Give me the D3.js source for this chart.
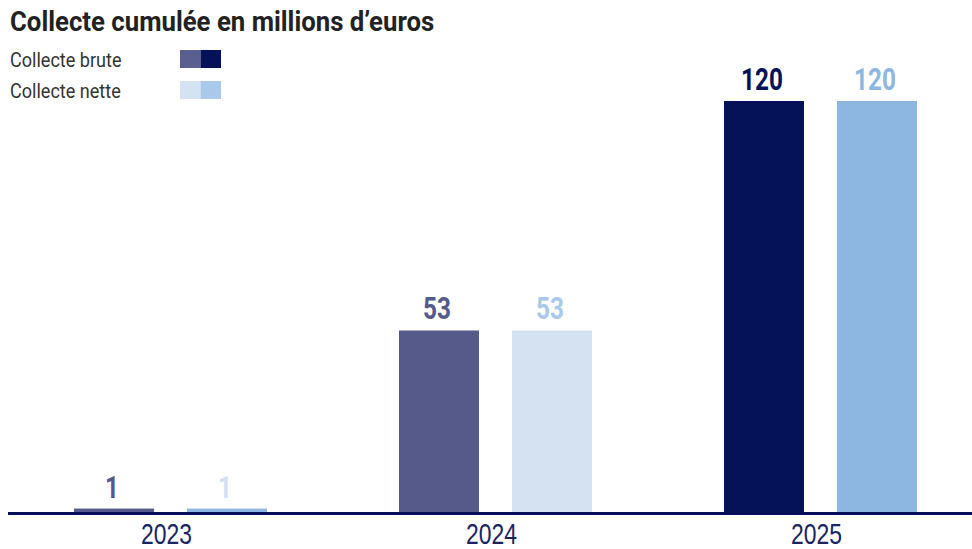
<!DOCTYPE html>
<html><head><meta charset="utf-8">
<script src="https://cdn.jsdelivr.net/npm/d3@7"></script>
<style>
body{margin:0;background:#fff;}
svg{display:block;font-family:Roboto,"Noto Sans",sans-serif;}
</style></head>
<body><svg id="c" width="972" height="549"></svg>
<script>
const years = ["2023","2024","2025"];
const series = ["Collecte brute","Collecte nette"];
const brute = [1,53,120];
const nette = [1,53,120];

const barColors = {
  "Collecte brute": ["#555a8a","#555a8a","#061257"],
  "Collecte nette": ["#8db7e0","#d4e2f2","#8db7e0"]
};
const labelColors = {
  "Collecte brute": ["#555a8a","#555a8a","#061257"],
  "Collecte nette": ["#d2e0f1","#a9c8ea","#8db7e0"]
};
const legendColors = {
  "Collecte brute": ["#5a5f8f","#061257"],
  "Collecte nette": ["#d4e2f2","#a9c8ea"]
};

const svg = d3.select("#c");
const base = 512;

function ctext(parent, x, yy, txt, size, weight, fill, anchor, sx){
  return parent.append("text")
    .attr("transform",`translate(${x},${yy}) scale(${sx||0.78},1)`)
    .attr("font-size",size).attr("font-weight",weight).attr("fill",fill)
    .attr("text-anchor",anchor||"start").text(txt);
}

const x0 = d3.scaleBand().domain(years).range([8,983]).paddingInner(0).paddingOuter(0);
const y = d3.scaleLinear().domain([0,120]).range([base,101]);

ctext(svg,10,31,"Collecte cumulée en millions d’euros",28,"bold","#222","start",0.92);

series.forEach((s,i)=>{
  const g = svg.append("g").attr("transform",`translate(0,${i*31})`);
  ctext(g,10,67,s,21,"normal","#333","start",0.86);
  legendColors[s].forEach((c,j)=>{
    g.append("rect").attr("x",180+j*20.5).attr("y",50).attr("width",20.5).attr("height",18).attr("fill",c);
  });
});

const data = years.map((yr,i)=>({year:yr, i, vals:[{s:series[0],v:brute[i]},{s:series[1],v:nette[i]}]}));
const barW = 80, gap = 33;

const groups = svg.selectAll("g.yr").data(data).enter().append("g").attr("class","yr");
groups.each(function(d){
  const cx = x0(d.year) + x0.bandwidth()/2;
  const g = d3.select(this);
  d.vals.forEach((o,k)=>{
    const bx = cx - gap/2 - barW + k*(barW+gap);
    g.append("rect").attr("x",bx).attr("y",y(o.v)).attr("width",barW).attr("height",base-y(o.v))
      .attr("fill",barColors[o.s][d.i]);
    ctext(g,bx+barW/2-2,y(o.v)-11,o.v,32,"bold",labelColors[o.s][d.i],"middle",0.76);
  });
});

const axis = svg.append("g").attr("transform",`translate(0,${base+1.5})`)
  .call(d3.axisBottom(x0).tickSize(0).tickPadding(0));
axis.select(".domain").remove();
axis.append("line").attr("x1",8).attr("x2",972).attr("y1",0).attr("y2",0)
  .attr("stroke","#061257").attr("stroke-width",3);
axis.selectAll(".tick text").remove();
axis.selectAll(".tick").each(function(d){
  ctext(d3.select(this),-4,30,d,29,"normal","#1a2560","middle",0.79);
});
</script></body></html>
